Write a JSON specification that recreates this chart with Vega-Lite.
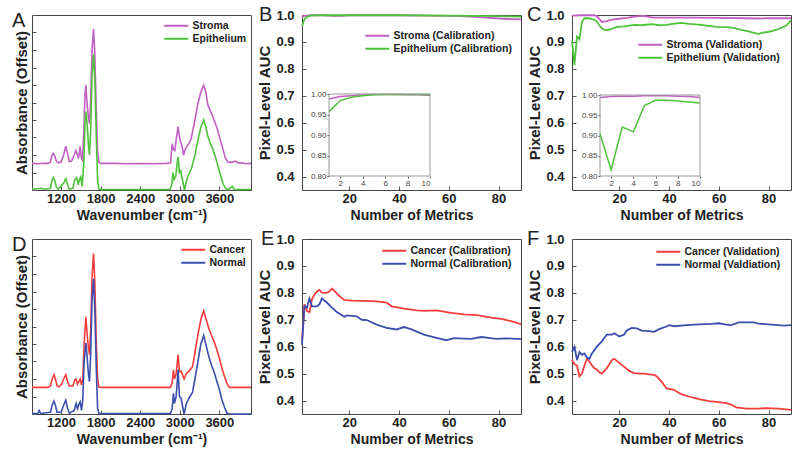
{
  "$schema": "https://vega.github.io/schema/vega-lite/v6.json",
  "background": "white",
  "padding": {"left": 11, "top": 4, "right": 5, "bottom": 5},
  "columns": 3,
  "spacing": {"row": 49, "column": 51},
  "bounds": "flush",
  "resolve": {"scale": {"color": "independent"}, "legend": {"color": "independent"}},
  "config": {
    "font": "Liberation Sans",
    "view": {"stroke": "#444", "strokeWidth": 1},
    "axis": {
      "labelFont": "Liberation Sans", "labelFontWeight": "bold", "labelFontSize": 13, "labelColor": "#222",
      "titleFont": "Liberation Sans", "titleFontWeight": "bold", "titleFontSize": 14, "titleColor": "#222",
      "grid": false, "domain": false, "tickColor": "#555", "tickSize": -4, "labelPadding": 6, "titlePadding": 3
    },
    "axisY": {"titleFontSize": 15, "labelPadding": 12, "titlePadding": 3},
    "legend": {
      "labelFont": "Liberation Sans", "labelFontWeight": "bold", "labelFontSize": 10.5, "labelColor": "#222",
      "orient": "none", "padding": 0, "rowPadding": 2, "symbolStrokeWidth": 2,
      "symbolType": "M-3,0H3", "symbolSize": 64, "labelOffset": 11, "title": null
    },
    "title": {"anchor": "start", "frame": "group", "fontSize": 20, "fontWeight": "normal", "font": "Liberation Sans", "color": "#222", "baseline": "alphabetic", "offset": -16}
  },
  "datasets": {
    "a": [
      {"wn":760,"v":0.152,"s":"Stroma"},{"wn":850,"v":0.150,"s":"Stroma"},{"wn":950,"v":0.153,"s":"Stroma"},{"wn":1000,"v":0.152,"s":"Stroma"},{"wn":1040,"v":0.160,"s":"Stroma"},{"wn":1060,"v":0.195,"s":"Stroma"},{"wn":1082,"v":0.209,"s":"Stroma"},{"wn":1105,"v":0.195,"s":"Stroma"},{"wn":1130,"v":0.165,"s":"Stroma"},{"wn":1160,"v":0.155,"s":"Stroma"},{"wn":1200,"v":0.160,"s":"Stroma"},{"wn":1240,"v":0.200,"s":"Stroma"},{"wn":1272,"v":0.250,"s":"Stroma"},{"wn":1300,"v":0.205,"s":"Stroma"},{"wn":1327,"v":0.162,"s":"Stroma"},{"wn":1360,"v":0.165,"s":"Stroma"},{"wn":1400,"v":0.200,"s":"Stroma"},{"wn":1425,"v":0.225,"s":"Stroma"},{"wn":1445,"v":0.205,"s":"Stroma"},{"wn":1465,"v":0.180,"s":"Stroma"},{"wn":1490,"v":0.250,"s":"Stroma"},{"wn":1510,"v":0.180,"s":"Stroma"},{"wn":1525,"v":0.170,"s":"Stroma"},{"wn":1545,"v":0.330,"s":"Stroma"},{"wn":1565,"v":0.560,"s":"Stroma"},{"wn":1577,"v":0.600,"s":"Stroma"},{"wn":1595,"v":0.490,"s":"Stroma"},{"wn":1615,"v":0.420,"s":"Stroma"},{"wn":1632,"v":0.380,"s":"Stroma"},{"wn":1650,"v":0.520,"s":"Stroma"},{"wn":1670,"v":0.800,"s":"Stroma"},{"wn":1693,"v":0.920,"s":"Stroma"},{"wn":1712,"v":0.780,"s":"Stroma"},{"wn":1735,"v":0.450,"s":"Stroma"},{"wn":1755,"v":0.220,"s":"Stroma"},{"wn":1775,"v":0.158,"s":"Stroma"},{"wn":1800,"v":0.152,"s":"Stroma"},{"wn":2000,"v":0.152,"s":"Stroma"},{"wn":2200,"v":0.150,"s":"Stroma"},{"wn":2400,"v":0.151,"s":"Stroma"},{"wn":2600,"v":0.150,"s":"Stroma"},{"wn":2800,"v":0.152,"s":"Stroma"},{"wn":2860,"v":0.155,"s":"Stroma"},{"wn":2885,"v":0.265,"s":"Stroma"},{"wn":2905,"v":0.230,"s":"Stroma"},{"wn":2926,"v":0.225,"s":"Stroma"},{"wn":2950,"v":0.300,"s":"Stroma"},{"wn":2975,"v":0.362,"s":"Stroma"},{"wn":2995,"v":0.300,"s":"Stroma"},{"wn":3010,"v":0.280,"s":"Stroma"},{"wn":3035,"v":0.250,"s":"Stroma"},{"wn":3057,"v":0.200,"s":"Stroma"},{"wn":3080,"v":0.230,"s":"Stroma"},{"wn":3108,"v":0.250,"s":"Stroma"},{"wn":3140,"v":0.265,"s":"Stroma"},{"wn":3170,"v":0.290,"s":"Stroma"},{"wn":3220,"v":0.380,"s":"Stroma"},{"wn":3271,"v":0.487,"s":"Stroma"},{"wn":3320,"v":0.560,"s":"Stroma"},{"wn":3363,"v":0.598,"s":"Stroma"},{"wn":3395,"v":0.560,"s":"Stroma"},{"wn":3424,"v":0.490,"s":"Stroma"},{"wn":3460,"v":0.455,"s":"Stroma"},{"wn":3500,"v":0.420,"s":"Stroma"},{"wn":3540,"v":0.380,"s":"Stroma"},{"wn":3577,"v":0.340,"s":"Stroma"},{"wn":3615,"v":0.285,"s":"Stroma"},{"wn":3653,"v":0.235,"s":"Stroma"},{"wn":3690,"v":0.185,"s":"Stroma"},{"wn":3729,"v":0.160,"s":"Stroma"},{"wn":3780,"v":0.158,"s":"Stroma"},{"wn":3850,"v":0.165,"s":"Stroma"},{"wn":3880,"v":0.155,"s":"Stroma"},{"wn":3950,"v":0.155,"s":"Stroma"},{"wn":4000,"v":0.150,"s":"Stroma"},{"wn":4080,"v":0.152,"s":"Stroma"},
      {"wn":760,"v":0.004,"s":"Epithelium"},{"wn":900,"v":0.010,"s":"Epithelium"},{"wn":950,"v":0.004,"s":"Epithelium"},{"wn":1040,"v":0.010,"s":"Epithelium"},{"wn":1060,"v":0.050,"s":"Epithelium"},{"wn":1082,"v":0.071,"s":"Epithelium"},{"wn":1105,"v":0.055,"s":"Epithelium"},{"wn":1130,"v":0.015,"s":"Epithelium"},{"wn":1160,"v":0.005,"s":"Epithelium"},{"wn":1240,"v":0.040,"s":"Epithelium"},{"wn":1272,"v":0.065,"s":"Epithelium"},{"wn":1300,"v":0.030,"s":"Epithelium"},{"wn":1327,"v":0.005,"s":"Epithelium"},{"wn":1380,"v":0.010,"s":"Epithelium"},{"wn":1410,"v":0.060,"s":"Epithelium"},{"wn":1440,"v":0.070,"s":"Epithelium"},{"wn":1460,"v":0.030,"s":"Epithelium"},{"wn":1480,"v":0.060,"s":"Epithelium"},{"wn":1500,"v":0.075,"s":"Epithelium"},{"wn":1520,"v":0.020,"s":"Epithelium"},{"wn":1545,"v":0.150,"s":"Epithelium"},{"wn":1565,"v":0.400,"s":"Epithelium"},{"wn":1577,"v":0.448,"s":"Epithelium"},{"wn":1595,"v":0.380,"s":"Epithelium"},{"wn":1615,"v":0.260,"s":"Epithelium"},{"wn":1632,"v":0.200,"s":"Epithelium"},{"wn":1650,"v":0.350,"s":"Epithelium"},{"wn":1670,"v":0.650,"s":"Epithelium"},{"wn":1693,"v":0.774,"s":"Epithelium"},{"wn":1712,"v":0.640,"s":"Epithelium"},{"wn":1735,"v":0.300,"s":"Epithelium"},{"wn":1755,"v":0.050,"s":"Epithelium"},{"wn":1775,"v":0.005,"s":"Epithelium"},{"wn":1800,"v":0.003,"s":"Epithelium"},{"wn":2200,"v":0.003,"s":"Epithelium"},{"wn":2600,"v":0.003,"s":"Epithelium"},{"wn":2850,"v":0.003,"s":"Epithelium"},{"wn":2880,"v":0.030,"s":"Epithelium"},{"wn":2895,"v":0.100,"s":"Epithelium"},{"wn":2915,"v":0.060,"s":"Epithelium"},{"wn":2940,"v":0.080,"s":"Epithelium"},{"wn":2960,"v":0.150,"s":"Epithelium"},{"wn":2975,"v":0.190,"s":"Epithelium"},{"wn":2995,"v":0.100,"s":"Epithelium"},{"wn":3015,"v":0.110,"s":"Epithelium"},{"wn":3040,"v":0.060,"s":"Epithelium"},{"wn":3072,"v":0.000,"s":"Epithelium"},{"wn":3100,"v":0.050,"s":"Epithelium"},{"wn":3123,"v":0.080,"s":"Epithelium"},{"wn":3150,"v":0.100,"s":"Epithelium"},{"wn":3184,"v":0.130,"s":"Epithelium"},{"wn":3230,"v":0.200,"s":"Epithelium"},{"wn":3271,"v":0.276,"s":"Epithelium"},{"wn":3320,"v":0.360,"s":"Epithelium"},{"wn":3363,"v":0.400,"s":"Epithelium"},{"wn":3395,"v":0.360,"s":"Epithelium"},{"wn":3424,"v":0.310,"s":"Epithelium"},{"wn":3460,"v":0.270,"s":"Epithelium"},{"wn":3500,"v":0.235,"s":"Epithelium"},{"wn":3540,"v":0.190,"s":"Epithelium"},{"wn":3577,"v":0.140,"s":"Epithelium"},{"wn":3615,"v":0.090,"s":"Epithelium"},{"wn":3653,"v":0.040,"s":"Epithelium"},{"wn":3690,"v":0.010,"s":"Epithelium"},{"wn":3729,"v":0.003,"s":"Epithelium"},{"wn":3800,"v":0.020,"s":"Epithelium"},{"wn":3820,"v":0.003,"s":"Epithelium"},{"wn":4000,"v":0.003,"s":"Epithelium"},{"wn":4080,"v":0.003,"s":"Epithelium"}
    ],
    "d": [
      {"wn":760,"v":0.152,"s":"Cancer"},{"wn":1000,"v":0.152,"s":"Cancer"},{"wn":1040,"v":0.160,"s":"Cancer"},{"wn":1065,"v":0.200,"s":"Cancer"},{"wn":1093,"v":0.224,"s":"Cancer"},{"wn":1115,"v":0.200,"s":"Cancer"},{"wn":1140,"v":0.160,"s":"Cancer"},{"wn":1170,"v":0.155,"s":"Cancer"},{"wn":1210,"v":0.170,"s":"Cancer"},{"wn":1240,"v":0.200,"s":"Cancer"},{"wn":1272,"v":0.224,"s":"Cancer"},{"wn":1300,"v":0.185,"s":"Cancer"},{"wn":1327,"v":0.160,"s":"Cancer"},{"wn":1380,"v":0.160,"s":"Cancer"},{"wn":1410,"v":0.195,"s":"Cancer"},{"wn":1429,"v":0.200,"s":"Cancer"},{"wn":1450,"v":0.170,"s":"Cancer"},{"wn":1470,"v":0.185,"s":"Cancer"},{"wn":1490,"v":0.200,"s":"Cancer"},{"wn":1510,"v":0.165,"s":"Cancer"},{"wn":1530,"v":0.200,"s":"Cancer"},{"wn":1550,"v":0.400,"s":"Cancer"},{"wn":1577,"v":0.555,"s":"Cancer"},{"wn":1595,"v":0.460,"s":"Cancer"},{"wn":1615,"v":0.380,"s":"Cancer"},{"wn":1632,"v":0.339,"s":"Cancer"},{"wn":1650,"v":0.480,"s":"Cancer"},{"wn":1670,"v":0.780,"s":"Cancer"},{"wn":1693,"v":0.917,"s":"Cancer"},{"wn":1712,"v":0.760,"s":"Cancer"},{"wn":1735,"v":0.400,"s":"Cancer"},{"wn":1755,"v":0.200,"s":"Cancer"},{"wn":1775,"v":0.153,"s":"Cancer"},{"wn":1800,"v":0.152,"s":"Cancer"},{"wn":2400,"v":0.152,"s":"Cancer"},{"wn":2860,"v":0.152,"s":"Cancer"},{"wn":2885,"v":0.180,"s":"Cancer"},{"wn":2904,"v":0.252,"s":"Cancer"},{"wn":2920,"v":0.200,"s":"Cancer"},{"wn":2945,"v":0.230,"s":"Cancer"},{"wn":2975,"v":0.339,"s":"Cancer"},{"wn":2995,"v":0.240,"s":"Cancer"},{"wn":3020,"v":0.245,"s":"Cancer"},{"wn":3045,"v":0.220,"s":"Cancer"},{"wn":3066,"v":0.200,"s":"Cancer"},{"wn":3100,"v":0.230,"s":"Cancer"},{"wn":3140,"v":0.245,"s":"Cancer"},{"wn":3194,"v":0.270,"s":"Cancer"},{"wn":3230,"v":0.350,"s":"Cancer"},{"wn":3271,"v":0.445,"s":"Cancer"},{"wn":3320,"v":0.540,"s":"Cancer"},{"wn":3363,"v":0.590,"s":"Cancer"},{"wn":3400,"v":0.540,"s":"Cancer"},{"wn":3440,"v":0.490,"s":"Cancer"},{"wn":3480,"v":0.450,"s":"Cancer"},{"wn":3520,"v":0.415,"s":"Cancer"},{"wn":3560,"v":0.370,"s":"Cancer"},{"wn":3600,"v":0.320,"s":"Cancer"},{"wn":3640,"v":0.260,"s":"Cancer"},{"wn":3677,"v":0.216,"s":"Cancer"},{"wn":3715,"v":0.175,"s":"Cancer"},{"wn":3753,"v":0.152,"s":"Cancer"},{"wn":4080,"v":0.152,"s":"Cancer"},
      {"wn":760,"v":0.003,"s":"Normal"},{"wn":850,"v":0.003,"s":"Normal"},{"wn":869,"v":0.020,"s":"Normal"},{"wn":890,"v":0.003,"s":"Normal"},{"wn":1040,"v":0.010,"s":"Normal"},{"wn":1065,"v":0.050,"s":"Normal"},{"wn":1093,"v":0.073,"s":"Normal"},{"wn":1115,"v":0.050,"s":"Normal"},{"wn":1140,"v":0.010,"s":"Normal"},{"wn":1200,"v":0.010,"s":"Normal"},{"wn":1240,"v":0.050,"s":"Normal"},{"wn":1272,"v":0.079,"s":"Normal"},{"wn":1300,"v":0.030,"s":"Normal"},{"wn":1327,"v":0.005,"s":"Normal"},{"wn":1400,"v":0.020,"s":"Normal"},{"wn":1429,"v":0.060,"s":"Normal"},{"wn":1450,"v":0.030,"s":"Normal"},{"wn":1470,"v":0.055,"s":"Normal"},{"wn":1490,"v":0.070,"s":"Normal"},{"wn":1510,"v":0.020,"s":"Normal"},{"wn":1530,"v":0.080,"s":"Normal"},{"wn":1550,"v":0.300,"s":"Normal"},{"wn":1577,"v":0.406,"s":"Normal"},{"wn":1595,"v":0.330,"s":"Normal"},{"wn":1615,"v":0.230,"s":"Normal"},{"wn":1632,"v":0.185,"s":"Normal"},{"wn":1650,"v":0.350,"s":"Normal"},{"wn":1670,"v":0.650,"s":"Normal"},{"wn":1693,"v":0.773,"s":"Normal"},{"wn":1712,"v":0.600,"s":"Normal"},{"wn":1735,"v":0.250,"s":"Normal"},{"wn":1755,"v":0.030,"s":"Normal"},{"wn":1775,"v":0.003,"s":"Normal"},{"wn":2860,"v":0.003,"s":"Normal"},{"wn":2885,"v":0.030,"s":"Normal"},{"wn":2904,"v":0.118,"s":"Normal"},{"wn":2920,"v":0.060,"s":"Normal"},{"wn":2945,"v":0.100,"s":"Normal"},{"wn":2975,"v":0.252,"s":"Normal"},{"wn":2995,"v":0.100,"s":"Normal"},{"wn":3020,"v":0.090,"s":"Normal"},{"wn":3045,"v":0.040,"s":"Normal"},{"wn":3066,"v":0.000,"s":"Normal"},{"wn":3100,"v":0.060,"s":"Normal"},{"wn":3140,"v":0.090,"s":"Normal"},{"wn":3194,"v":0.125,"s":"Normal"},{"wn":3230,"v":0.200,"s":"Normal"},{"wn":3271,"v":0.290,"s":"Normal"},{"wn":3320,"v":0.400,"s":"Normal"},{"wn":3363,"v":0.449,"s":"Normal"},{"wn":3400,"v":0.390,"s":"Normal"},{"wn":3440,"v":0.330,"s":"Normal"},{"wn":3480,"v":0.280,"s":"Normal"},{"wn":3520,"v":0.240,"s":"Normal"},{"wn":3560,"v":0.190,"s":"Normal"},{"wn":3600,"v":0.140,"s":"Normal"},{"wn":3640,"v":0.080,"s":"Normal"},{"wn":3677,"v":0.040,"s":"Normal"},{"wn":3715,"v":0.005,"s":"Normal"},{"wn":3753,"v":0.000,"s":"Normal"},{"wn":4080,"v":0.000,"s":"Normal"}
    ],
    "b": [
      {"n":1,"v":0.994,"s":"Stroma (Calibration)"},{"n":2,"v":0.997,"s":"Stroma (Calibration)"},{"n":3,"v":0.998,"s":"Stroma (Calibration)"},{"n":5,"v":0.999,"s":"Stroma (Calibration)"},{"n":10,"v":0.999,"s":"Stroma (Calibration)"},{"n":13,"v":0.997,"s":"Stroma (Calibration)"},{"n":17,"v":0.997,"s":"Stroma (Calibration)"},{"n":20,"v":0.999,"s":"Stroma (Calibration)"},{"n":30,"v":0.999,"s":"Stroma (Calibration)"},{"n":40,"v":0.999,"s":"Stroma (Calibration)"},{"n":50,"v":0.998,"s":"Stroma (Calibration)"},{"n":60,"v":0.997,"s":"Stroma (Calibration)"},{"n":65,"v":0.996,"s":"Stroma (Calibration)"},{"n":70,"v":0.993,"s":"Stroma (Calibration)"},{"n":75,"v":0.990,"s":"Stroma (Calibration)"},{"n":80,"v":0.987,"s":"Stroma (Calibration)"},{"n":85,"v":0.985,"s":"Stroma (Calibration)"},{"n":89,"v":0.984,"s":"Stroma (Calibration)"},
      {"n":1,"v":0.957,"s":"Epithelium (Calibration)"},{"n":2,"v":0.985,"s":"Epithelium (Calibration)"},{"n":3,"v":0.993,"s":"Epithelium (Calibration)"},{"n":4,"v":0.997,"s":"Epithelium (Calibration)"},{"n":5,"v":0.998,"s":"Epithelium (Calibration)"},{"n":6,"v":0.999,"s":"Epithelium (Calibration)"},{"n":10,"v":0.999,"s":"Epithelium (Calibration)"},{"n":20,"v":0.999,"s":"Epithelium (Calibration)"},{"n":40,"v":0.999,"s":"Epithelium (Calibration)"},{"n":60,"v":0.998,"s":"Epithelium (Calibration)"},{"n":70,"v":0.997,"s":"Epithelium (Calibration)"},{"n":80,"v":0.996,"s":"Epithelium (Calibration)"},{"n":89,"v":0.994,"s":"Epithelium (Calibration)"}
    ],
    "bi": [
      {"n":1,"v":0.988,"s":"Stroma (Calibration)"},{"n":2,"v":0.994,"s":"Stroma (Calibration)"},{"n":3,"v":0.996,"s":"Stroma (Calibration)"},{"n":4,"v":0.998,"s":"Stroma (Calibration)"},{"n":5,"v":0.999,"s":"Stroma (Calibration)"},{"n":6,"v":0.999,"s":"Stroma (Calibration)"},{"n":7,"v":0.999,"s":"Stroma (Calibration)"},{"n":8,"v":0.998,"s":"Stroma (Calibration)"},{"n":9,"v":0.998,"s":"Stroma (Calibration)"},{"n":10,"v":0.997,"s":"Stroma (Calibration)"},
      {"n":1,"v":0.957,"s":"Epithelium (Calibration)"},{"n":2,"v":0.984,"s":"Epithelium (Calibration)"},{"n":3,"v":0.992,"s":"Epithelium (Calibration)"},{"n":4,"v":0.996,"s":"Epithelium (Calibration)"},{"n":5,"v":0.998,"s":"Epithelium (Calibration)"},{"n":6,"v":0.999,"s":"Epithelium (Calibration)"},{"n":7,"v":0.999,"s":"Epithelium (Calibration)"},{"n":8,"v":0.999,"s":"Epithelium (Calibration)"},{"n":9,"v":0.999,"s":"Epithelium (Calibration)"},{"n":10,"v":0.999,"s":"Epithelium (Calibration)"}
    ],
    "c": [
      {"n":1,"v":0.998,"s":"Stroma (Validation)"},{"n":5,"v":0.999,"s":"Stroma (Validation)"},{"n":10,"v":0.999,"s":"Stroma (Validation)"},{"n":11,"v":0.995,"s":"Stroma (Validation)"},{"n":12,"v":0.985,"s":"Stroma (Validation)"},{"n":13,"v":0.974,"s":"Stroma (Validation)"},{"n":15,"v":0.977,"s":"Stroma (Validation)"},{"n":17,"v":0.983,"s":"Stroma (Validation)"},{"n":20,"v":0.986,"s":"Stroma (Validation)"},{"n":23,"v":0.989,"s":"Stroma (Validation)"},{"n":26,"v":0.994,"s":"Stroma (Validation)"},{"n":28,"v":0.996,"s":"Stroma (Validation)"},{"n":30,"v":0.997,"s":"Stroma (Validation)"},{"n":32,"v":0.993,"s":"Stroma (Validation)"},{"n":34,"v":0.990,"s":"Stroma (Validation)"},{"n":40,"v":0.990,"s":"Stroma (Validation)"},{"n":50,"v":0.990,"s":"Stroma (Validation)"},{"n":60,"v":0.989,"s":"Stroma (Validation)"},{"n":70,"v":0.988,"s":"Stroma (Validation)"},{"n":75,"v":0.987,"s":"Stroma (Validation)"},{"n":80,"v":0.988,"s":"Stroma (Validation)"},{"n":89,"v":0.988,"s":"Stroma (Validation)"},
      {"n":1,"v":0.905,"s":"Epithelium (Validation)"},{"n":2,"v":0.815,"s":"Epithelium (Validation)"},{"n":3,"v":0.920,"s":"Epithelium (Validation)"},{"n":4,"v":0.910,"s":"Epithelium (Validation)"},{"n":5,"v":0.975,"s":"Epithelium (Validation)"},{"n":6,"v":0.988,"s":"Epithelium (Validation)"},{"n":7,"v":0.988,"s":"Epithelium (Validation)"},{"n":8,"v":0.987,"s":"Epithelium (Validation)"},{"n":9,"v":0.985,"s":"Epithelium (Validation)"},{"n":10,"v":0.981,"s":"Epithelium (Validation)"},{"n":11,"v":0.975,"s":"Epithelium (Validation)"},{"n":12,"v":0.962,"s":"Epithelium (Validation)"},{"n":13,"v":0.950,"s":"Epithelium (Validation)"},{"n":14,"v":0.945,"s":"Epithelium (Validation)"},{"n":15,"v":0.944,"s":"Epithelium (Validation)"},{"n":16,"v":0.946,"s":"Epithelium (Validation)"},{"n":17,"v":0.948,"s":"Epithelium (Validation)"},{"n":19,"v":0.956,"s":"Epithelium (Validation)"},{"n":22,"v":0.958,"s":"Epithelium (Validation)"},{"n":26,"v":0.963,"s":"Epithelium (Validation)"},{"n":29,"v":0.962,"s":"Epithelium (Validation)"},{"n":33,"v":0.966,"s":"Epithelium (Validation)"},{"n":36,"v":0.962,"s":"Epithelium (Validation)"},{"n":39,"v":0.963,"s":"Epithelium (Validation)"},{"n":42,"v":0.968,"s":"Epithelium (Validation)"},{"n":45,"v":0.971,"s":"Epithelium (Validation)"},{"n":48,"v":0.967,"s":"Epithelium (Validation)"},{"n":52,"v":0.964,"s":"Epithelium (Validation)"},{"n":56,"v":0.960,"s":"Epithelium (Validation)"},{"n":59,"v":0.956,"s":"Epithelium (Validation)"},{"n":63,"v":0.955,"s":"Epithelium (Validation)"},{"n":66,"v":0.952,"s":"Epithelium (Validation)"},{"n":69,"v":0.945,"s":"Epithelium (Validation)"},{"n":72,"v":0.939,"s":"Epithelium (Validation)"},{"n":74,"v":0.934,"s":"Epithelium (Validation)"},{"n":76,"v":0.930,"s":"Epithelium (Validation)"},{"n":78,"v":0.935,"s":"Epithelium (Validation)"},{"n":80,"v":0.937,"s":"Epithelium (Validation)"},{"n":82,"v":0.942,"s":"Epithelium (Validation)"},{"n":84,"v":0.948,"s":"Epithelium (Validation)"},{"n":86,"v":0.956,"s":"Epithelium (Validation)"},{"n":87,"v":0.960,"s":"Epithelium (Validation)"},{"n":88,"v":0.970,"s":"Epithelium (Validation)"},{"n":89,"v":0.980,"s":"Epithelium (Validation)"}
    ],
    "ci": [
      {"n":1,"v":0.994,"s":"Stroma (Validation)"},{"n":2,"v":0.996,"s":"Stroma (Validation)"},{"n":3,"v":0.997,"s":"Stroma (Validation)"},{"n":4,"v":0.997,"s":"Stroma (Validation)"},{"n":5,"v":0.998,"s":"Stroma (Validation)"},{"n":6,"v":0.998,"s":"Stroma (Validation)"},{"n":7,"v":0.998,"s":"Stroma (Validation)"},{"n":8,"v":0.997,"s":"Stroma (Validation)"},{"n":9,"v":0.996,"s":"Stroma (Validation)"},{"n":10,"v":0.994,"s":"Stroma (Validation)"},
      {"n":1,"v":0.905,"s":"Epithelium (Validation)"},{"n":2,"v":0.815,"s":"Epithelium (Validation)"},{"n":3,"v":0.921,"s":"Epithelium (Validation)"},{"n":4,"v":0.909,"s":"Epithelium (Validation)"},{"n":5,"v":0.974,"s":"Epithelium (Validation)"},{"n":6,"v":0.987,"s":"Epithelium (Validation)"},{"n":7,"v":0.987,"s":"Epithelium (Validation)"},{"n":8,"v":0.985,"s":"Epithelium (Validation)"},{"n":9,"v":0.983,"s":"Epithelium (Validation)"},{"n":10,"v":0.980,"s":"Epithelium (Validation)"}
    ],
    "e": [
      {"n":1,"v":0.620,"s":"Cancer (Calibration)"},{"n":2,"v":0.757,"s":"Cancer (Calibration)"},{"n":3,"v":0.733,"s":"Cancer (Calibration)"},{"n":4,"v":0.728,"s":"Cancer (Calibration)"},{"n":5,"v":0.776,"s":"Cancer (Calibration)"},{"n":6,"v":0.794,"s":"Cancer (Calibration)"},{"n":7,"v":0.805,"s":"Cancer (Calibration)"},{"n":8,"v":0.811,"s":"Cancer (Calibration)"},{"n":9,"v":0.801,"s":"Cancer (Calibration)"},{"n":11,"v":0.800,"s":"Cancer (Calibration)"},{"n":12,"v":0.805,"s":"Cancer (Calibration)"},{"n":13,"v":0.816,"s":"Cancer (Calibration)"},{"n":14,"v":0.807,"s":"Cancer (Calibration)"},{"n":16,"v":0.788,"s":"Cancer (Calibration)"},{"n":18,"v":0.774,"s":"Cancer (Calibration)"},{"n":21,"v":0.771,"s":"Cancer (Calibration)"},{"n":26,"v":0.770,"s":"Cancer (Calibration)"},{"n":31,"v":0.768,"s":"Cancer (Calibration)"},{"n":35,"v":0.764,"s":"Cancer (Calibration)"},{"n":37,"v":0.750,"s":"Cancer (Calibration)"},{"n":42,"v":0.741,"s":"Cancer (Calibration)"},{"n":47,"v":0.735,"s":"Cancer (Calibration)"},{"n":50,"v":0.733,"s":"Cancer (Calibration)"},{"n":55,"v":0.735,"s":"Cancer (Calibration)"},{"n":61,"v":0.726,"s":"Cancer (Calibration)"},{"n":66,"v":0.720,"s":"Cancer (Calibration)"},{"n":70,"v":0.718,"s":"Cancer (Calibration)"},{"n":72,"v":0.716,"s":"Cancer (Calibration)"},{"n":77,"v":0.708,"s":"Cancer (Calibration)"},{"n":81,"v":0.703,"s":"Cancer (Calibration)"},{"n":85,"v":0.695,"s":"Cancer (Calibration)"},{"n":89,"v":0.684,"s":"Cancer (Calibration)"},
      {"n":1,"v":0.607,"s":"Normal (Calibration)"},{"n":2,"v":0.751,"s":"Normal (Calibration)"},{"n":3,"v":0.745,"s":"Normal (Calibration)"},{"n":4,"v":0.779,"s":"Normal (Calibration)"},{"n":5,"v":0.750,"s":"Normal (Calibration)"},{"n":7,"v":0.750,"s":"Normal (Calibration)"},{"n":8,"v":0.757,"s":"Normal (Calibration)"},{"n":9,"v":0.779,"s":"Normal (Calibration)"},{"n":11,"v":0.764,"s":"Normal (Calibration)"},{"n":13,"v":0.745,"s":"Normal (Calibration)"},{"n":15,"v":0.729,"s":"Normal (Calibration)"},{"n":18,"v":0.711,"s":"Normal (Calibration)"},{"n":19,"v":0.716,"s":"Normal (Calibration)"},{"n":23,"v":0.713,"s":"Normal (Calibration)"},{"n":25,"v":0.700,"s":"Normal (Calibration)"},{"n":27,"v":0.699,"s":"Normal (Calibration)"},{"n":31,"v":0.682,"s":"Normal (Calibration)"},{"n":35,"v":0.670,"s":"Normal (Calibration)"},{"n":39,"v":0.664,"s":"Normal (Calibration)"},{"n":42,"v":0.673,"s":"Normal (Calibration)"},{"n":45,"v":0.664,"s":"Normal (Calibration)"},{"n":50,"v":0.645,"s":"Normal (Calibration)"},{"n":55,"v":0.633,"s":"Normal (Calibration)"},{"n":59,"v":0.624,"s":"Normal (Calibration)"},{"n":62,"v":0.632,"s":"Normal (Calibration)"},{"n":66,"v":0.630,"s":"Normal (Calibration)"},{"n":69,"v":0.629,"s":"Normal (Calibration)"},{"n":73,"v":0.636,"s":"Normal (Calibration)"},{"n":76,"v":0.633,"s":"Normal (Calibration)"},{"n":79,"v":0.629,"s":"Normal (Calibration)"},{"n":83,"v":0.631,"s":"Normal (Calibration)"},{"n":87,"v":0.629,"s":"Normal (Calibration)"},{"n":89,"v":0.629,"s":"Normal (Calibration)"}
    ],
    "f": [
      {"n":1,"v":0.550,"s":"Cancer (Validation)"},{"n":2,"v":0.535,"s":"Cancer (Validation)"},{"n":3,"v":0.530,"s":"Cancer (Validation)"},{"n":4,"v":0.490,"s":"Cancer (Validation)"},{"n":5,"v":0.500,"s":"Cancer (Validation)"},{"n":6,"v":0.530,"s":"Cancer (Validation)"},{"n":7,"v":0.555,"s":"Cancer (Validation)"},{"n":8,"v":0.545,"s":"Cancer (Validation)"},{"n":9,"v":0.530,"s":"Cancer (Validation)"},{"n":10,"v":0.520,"s":"Cancer (Validation)"},{"n":11,"v":0.515,"s":"Cancer (Validation)"},{"n":12,"v":0.505,"s":"Cancer (Validation)"},{"n":13,"v":0.500,"s":"Cancer (Validation)"},{"n":15,"v":0.520,"s":"Cancer (Validation)"},{"n":17,"v":0.550,"s":"Cancer (Validation)"},{"n":18,"v":0.555,"s":"Cancer (Validation)"},{"n":20,"v":0.540,"s":"Cancer (Validation)"},{"n":22,"v":0.525,"s":"Cancer (Validation)"},{"n":24,"v":0.510,"s":"Cancer (Validation)"},{"n":26,"v":0.502,"s":"Cancer (Validation)"},{"n":28,"v":0.500,"s":"Cancer (Validation)"},{"n":30,"v":0.500,"s":"Cancer (Validation)"},{"n":32,"v":0.497,"s":"Cancer (Validation)"},{"n":34,"v":0.495,"s":"Cancer (Validation)"},{"n":35,"v":0.490,"s":"Cancer (Validation)"},{"n":37,"v":0.470,"s":"Cancer (Validation)"},{"n":39,"v":0.445,"s":"Cancer (Validation)"},{"n":42,"v":0.440,"s":"Cancer (Validation)"},{"n":44,"v":0.428,"s":"Cancer (Validation)"},{"n":46,"v":0.420,"s":"Cancer (Validation)"},{"n":48,"v":0.415,"s":"Cancer (Validation)"},{"n":52,"v":0.405,"s":"Cancer (Validation)"},{"n":56,"v":0.398,"s":"Cancer (Validation)"},{"n":59,"v":0.395,"s":"Cancer (Validation)"},{"n":63,"v":0.390,"s":"Cancer (Validation)"},{"n":65,"v":0.385,"s":"Cancer (Validation)"},{"n":67,"v":0.375,"s":"Cancer (Validation)"},{"n":71,"v":0.370,"s":"Cancer (Validation)"},{"n":76,"v":0.370,"s":"Cancer (Validation)"},{"n":79,"v":0.372,"s":"Cancer (Validation)"},{"n":84,"v":0.370,"s":"Cancer (Validation)"},{"n":89,"v":0.365,"s":"Cancer (Validation)"},
      {"n":1,"v":0.580,"s":"Normal (Valdiation)"},{"n":2,"v":0.600,"s":"Normal (Valdiation)"},{"n":3,"v":0.550,"s":"Normal (Valdiation)"},{"n":4,"v":0.580,"s":"Normal (Valdiation)"},{"n":5,"v":0.570,"s":"Normal (Valdiation)"},{"n":6,"v":0.575,"s":"Normal (Valdiation)"},{"n":7,"v":0.560,"s":"Normal (Valdiation)"},{"n":8,"v":0.555,"s":"Normal (Valdiation)"},{"n":9,"v":0.575,"s":"Normal (Valdiation)"},{"n":11,"v":0.600,"s":"Normal (Valdiation)"},{"n":13,"v":0.620,"s":"Normal (Valdiation)"},{"n":15,"v":0.645,"s":"Normal (Valdiation)"},{"n":17,"v":0.645,"s":"Normal (Valdiation)"},{"n":18,"v":0.650,"s":"Normal (Valdiation)"},{"n":20,"v":0.638,"s":"Normal (Valdiation)"},{"n":22,"v":0.645,"s":"Normal (Valdiation)"},{"n":23,"v":0.660,"s":"Normal (Valdiation)"},{"n":25,"v":0.670,"s":"Normal (Valdiation)"},{"n":27,"v":0.668,"s":"Normal (Valdiation)"},{"n":29,"v":0.660,"s":"Normal (Valdiation)"},{"n":32,"v":0.658,"s":"Normal (Valdiation)"},{"n":34,"v":0.655,"s":"Normal (Valdiation)"},{"n":36,"v":0.665,"s":"Normal (Valdiation)"},{"n":39,"v":0.675,"s":"Normal (Valdiation)"},{"n":40,"v":0.680,"s":"Normal (Valdiation)"},{"n":42,"v":0.676,"s":"Normal (Valdiation)"},{"n":47,"v":0.680,"s":"Normal (Valdiation)"},{"n":52,"v":0.683,"s":"Normal (Valdiation)"},{"n":57,"v":0.685,"s":"Normal (Valdiation)"},{"n":60,"v":0.687,"s":"Normal (Valdiation)"},{"n":63,"v":0.682,"s":"Normal (Valdiation)"},{"n":65,"v":0.680,"s":"Normal (Valdiation)"},{"n":68,"v":0.690,"s":"Normal (Valdiation)"},{"n":74,"v":0.690,"s":"Normal (Valdiation)"},{"n":76,"v":0.686,"s":"Normal (Valdiation)"},{"n":80,"v":0.683,"s":"Normal (Valdiation)"},{"n":84,"v":0.680,"s":"Normal (Valdiation)"},{"n":86,"v":0.678,"s":"Normal (Valdiation)"},{"n":89,"v":0.680,"s":"Normal (Valdiation)"}
    ]
  },
  "concat": [
    {
      "width": 219, "height": 175,
      "title": {"text": "A", "dx": -20},
      "data": {"name": "a"},
      "mark": {"type": "line", "strokeWidth": 1.6},
      "encoding": {
        "x": {"field": "wn", "type": "quantitative", "scale": {"domain": [760, 4080], "nice": false, "zero": false}, "axis": {"values": [1200, 1800, 2400, 3000, 3600], "format": "d", "title": "Wavenumber (cm⁻¹)"}},
        "y": {"field": "v", "type": "quantitative", "scale": {"domain": [0, 1], "nice": false}, "axis": {"labels": false, "tickCount": 10, "title": "Absorbance (Offset)", "titlePadding": 2}},
        "color": {"field": "s", "type": "nominal", "scale": {"domain": ["Stroma", "Epithelium"], "range": ["#c060c0", "#4fc23c"]}, "legend": {"legendX": 139, "legendY": 5.5}}
      }
    },
    {
      "width": 219, "height": 175,
      "title": {"text": "B", "dx": -43},
      "layer": [
        {
          "data": {"name": "b"},
          "mark": {"type": "line", "strokeWidth": 1.8},
          "encoding": {
            "x": {"field": "n", "type": "quantitative", "scale": {"domain": [1, 89], "nice": false, "zero": false}, "axis": {"values": [20, 40, 60, 80], "title": "Number of Metrics"}},
            "y": {"field": "v", "type": "quantitative", "scale": {"domain": [0.35, 1.0], "nice": false, "zero": false}, "axis": {"values": [0.4, 0.5, 0.6, 0.7, 0.8, 0.9, 1.0], "format": ".1f", "title": "Pixel-Level AUC"}},
            "color": {"field": "s", "type": "nominal", "scale": {"domain": ["Stroma (Calibration)", "Epithelium (Calibration)"], "range": ["#c060c0", "#4fc23c"]}, "legend": {"legendX": 70, "legendY": 15.5}}
          }
        },
        {
          "layer": [
            {
              "data": {"name": "bi"},
              "mark": {"type": "line", "strokeWidth": 1.5},
              "encoding": {
                "x": {"field": "n", "type": "quantitative", "scale": {"domain": [1, 10], "range": [27, 128], "nice": false, "zero": false}, "axis": {"orient": "bottom", "offset": -14, "values": [2, 4, 6, 8, 10], "title": null, "labelFontSize": 8, "labelFontWeight": "normal", "labelColor": "#444", "tickSize": 2, "labelPadding": 1}},
                "y": {"field": "v", "type": "quantitative", "scale": {"domain": [0.8, 1.0], "range": [161, 79], "nice": false, "zero": false}, "axis": {"orient": "left", "offset": -27, "values": [0.8, 0.85, 0.9, 0.95, 1.0], "format": ".2f", "title": null, "labelFontSize": 8, "labelFontWeight": "normal", "labelColor": "#444", "tickSize": 2, "labelPadding": 1}},
                "color": {"field": "s", "type": "nominal"}
              }
            },
            {
              "data": {"values": [{}]},
              "mark": {"type": "rect", "fill": "white", "fillOpacity": 0, "stroke": "#999", "strokeWidth": 1},
              "encoding": {"x": {"datum": 1, "type": "quantitative"}, "x2": {"datum": 10}, "y": {"datum": 0.8, "type": "quantitative"}, "y2": {"datum": 1.0}}
            }
          ]
        }
      ],
      "resolve": {"scale": {"x": "independent", "y": "independent"}, "axis": {"x": "independent", "y": "independent"}}
    },
    {
      "width": 219, "height": 175,
      "title": {"text": "C", "dx": -45},
      "layer": [
        {
          "data": {"name": "c"},
          "mark": {"type": "line", "strokeWidth": 1.8},
          "encoding": {
            "x": {"field": "n", "type": "quantitative", "scale": {"domain": [1, 89], "nice": false, "zero": false}, "axis": {"values": [20, 40, 60, 80], "title": "Number of Metrics"}},
            "y": {"field": "v", "type": "quantitative", "scale": {"domain": [0.35, 1.0], "nice": false, "zero": false}, "axis": {"values": [0.4, 0.5, 0.6, 0.7, 0.8, 0.9, 1.0], "format": ".1f", "title": "Pixel-Level AUC"}},
            "color": {"field": "s", "type": "nominal", "scale": {"domain": ["Stroma (Validation)", "Epithelium (Validation)"], "range": ["#c060c0", "#4fc23c"]}, "legend": {"legendX": 73, "legendY": 24.5}}
          }
        },
        {
          "layer": [
            {
              "data": {"name": "ci"},
              "mark": {"type": "line", "strokeWidth": 1.5},
              "encoding": {
                "x": {"field": "n", "type": "quantitative", "scale": {"domain": [1, 10], "range": [28, 128], "nice": false, "zero": false}, "axis": {"orient": "bottom", "offset": -14, "values": [2, 4, 6, 8, 10], "title": null, "labelFontSize": 8, "labelFontWeight": "normal", "labelColor": "#444", "tickSize": 2, "labelPadding": 1}},
                "y": {"field": "v", "type": "quantitative", "scale": {"domain": [0.8, 1.0], "range": [161, 80], "nice": false, "zero": false}, "axis": {"orient": "left", "offset": -28, "values": [0.8, 0.85, 0.9, 0.95, 1.0], "format": ".2f", "title": null, "labelFontSize": 8, "labelFontWeight": "normal", "labelColor": "#444", "tickSize": 2, "labelPadding": 1}},
                "color": {"field": "s", "type": "nominal"}
              }
            },
            {
              "data": {"values": [{}]},
              "mark": {"type": "rect", "fill": "white", "fillOpacity": 0, "stroke": "#999", "strokeWidth": 1},
              "encoding": {"x": {"datum": 1, "type": "quantitative"}, "x2": {"datum": 10}, "y": {"datum": 0.8, "type": "quantitative"}, "y2": {"datum": 1.0}}
            }
          ]
        }
      ],
      "resolve": {"scale": {"x": "independent", "y": "independent"}, "axis": {"x": "independent", "y": "independent"}}
    },
    {
      "width": 219, "height": 175,
      "title": {"text": "D", "dx": -20},
      "data": {"name": "d"},
      "mark": {"type": "line", "strokeWidth": 1.6},
      "encoding": {
        "x": {"field": "wn", "type": "quantitative", "scale": {"domain": [760, 4080], "nice": false, "zero": false}, "axis": {"values": [1200, 1800, 2400, 3000, 3600], "format": "d", "title": "Wavenumber (cm⁻¹)"}},
        "y": {"field": "v", "type": "quantitative", "scale": {"domain": [0, 1], "nice": false}, "axis": {"labels": false, "tickCount": 10, "title": "Absorbance (Offset)", "titlePadding": 2}},
        "color": {"field": "s", "type": "nominal", "scale": {"domain": ["Cancer", "Normal"], "range": ["#f43c3c", "#3b4fae"]}, "legend": {"legendX": 156, "legendY": 5.5}}
      }
    },
    {
      "width": 219, "height": 175,
      "title": {"text": "E", "dx": -41},
      "data": {"name": "e"},
      "mark": {"type": "line", "strokeWidth": 1.8},
      "encoding": {
        "x": {"field": "n", "type": "quantitative", "scale": {"domain": [1, 89], "nice": false, "zero": false}, "axis": {"values": [20, 40, 60, 80], "title": "Number of Metrics"}},
        "y": {"field": "v", "type": "quantitative", "scale": {"domain": [0.35, 1.0], "nice": false, "zero": false}, "axis": {"values": [0.4, 0.5, 0.6, 0.7, 0.8, 0.9, 1.0], "format": ".1f", "title": "Pixel-Level AUC"}},
        "color": {"field": "s", "type": "nominal", "scale": {"domain": ["Cancer (Calibration)", "Normal (Calibration)"], "range": ["#f43c3c", "#3b4fae"]}, "legend": {"legendX": 87, "legendY": 6.5}}
      }
    },
    {
      "width": 219, "height": 175,
      "title": {"text": "F", "dx": -45},
      "data": {"name": "f"},
      "mark": {"type": "line", "strokeWidth": 1.8},
      "encoding": {
        "x": {"field": "n", "type": "quantitative", "scale": {"domain": [1, 89], "nice": false, "zero": false}, "axis": {"values": [20, 40, 60, 80], "title": "Number of Metrics"}},
        "y": {"field": "v", "type": "quantitative", "scale": {"domain": [0.35, 1.0], "nice": false, "zero": false}, "axis": {"values": [0.4, 0.5, 0.6, 0.7, 0.8, 0.9, 1.0], "format": ".1f", "title": "Pixel-Level AUC"}},
        "color": {"field": "s", "type": "nominal", "scale": {"domain": ["Cancer (Validation)", "Normal (Valdiation)"], "range": ["#f43c3c", "#3b4fae"]}, "legend": {"legendX": 91, "legendY": 7.5}}
      }
    }
  ]
}
